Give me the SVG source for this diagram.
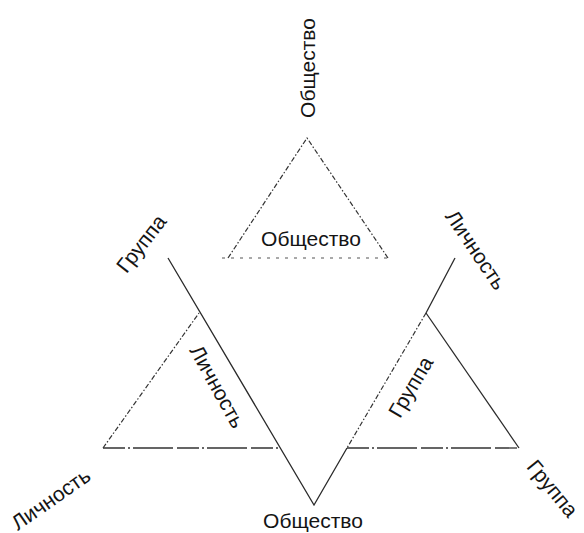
<svg xmlns="http://www.w3.org/2000/svg" width="584" height="533" viewBox="0 0 584 533">
<style>
text{font-family:"Liberation Sans",Arial,sans-serif;font-size:21px;fill:#141414;text-anchor:middle}
.s{fill:none;stroke:#2a2a2a;stroke-width:1.3}
.d{fill:none;stroke:#333;stroke-width:1.2;stroke-dasharray:5 2 1.5 2}
.b{fill:none;stroke:#555;stroke-width:1.2;stroke-dasharray:3 6}
.m{fill:none;stroke:#333;stroke-width:1.3;stroke-dasharray:22 3 2 3 40 4}
</style>
<rect width="584" height="533" fill="#fff"/>
<g id="lines">
<polyline class="d" points="228,258 307,138 388,258"/>
<line class="b" x1="222" y1="258" x2="388" y2="258"/>
<polyline class="s" points="168,258 314,505 347,448"/>
<polyline class="s" points="426,313 455,258"/>
<line class="d" x1="426" y1="313" x2="347" y2="448"/>
<line class="d" x1="103" y1="448" x2="199" y2="313"/>
<line class="m" x1="103" y1="448" x2="280" y2="448"/>
<line class="s" x1="426" y1="313" x2="519" y2="448"/>
<line class="m" x1="347" y1="448" x2="519" y2="448"/>
</g>
<g id="label-top"><text transform="translate(315,68) rotate(-90)">Общество</text></g>
<g id="label-top-inner"><text x="311" y="246">Общество</text></g>
<g id="label-bottom"><text x="313" y="528">Общество</text></g>
<g id="label-group-ul"><text transform="translate(147,248) rotate(-52)">Группа</text></g>
<g id="label-person-ur"><text transform="translate(470,254) rotate(56)">Личность</text></g>
<g id="label-person-inner"><text transform="translate(211,390) rotate(61)">Личность</text></g>
<g id="label-group-inner"><text transform="translate(417,390.5) rotate(-59.5)">Группа</text></g>
<g id="label-person-bl"><text transform="translate(55,505) rotate(-35)">Личность</text></g>
<g id="label-group-br"><text transform="translate(547,493) rotate(50.5)">Группа</text></g>
</svg>
